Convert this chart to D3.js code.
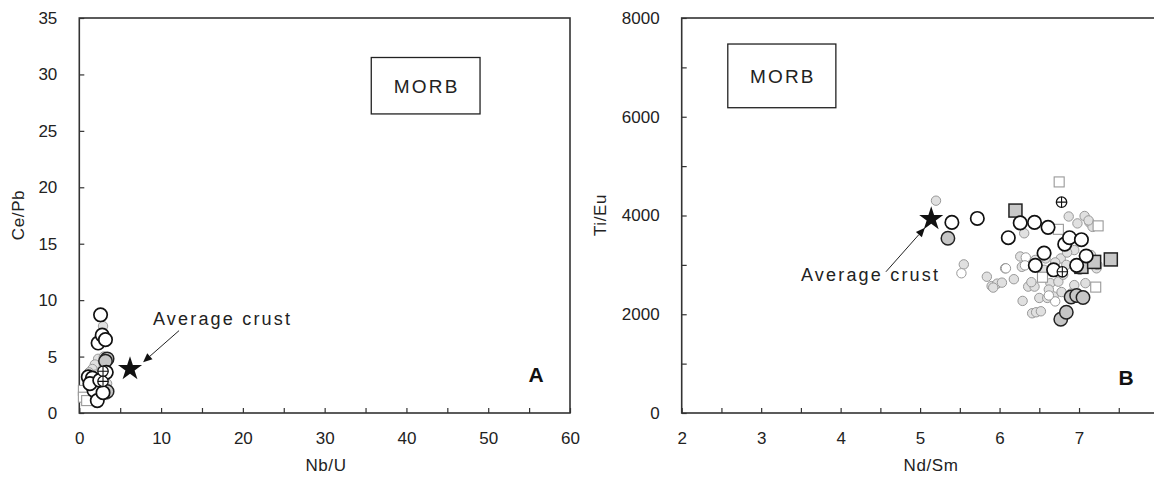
<!DOCTYPE html>
<html>
<head>
<meta charset="utf-8">
<script src="https://cdn.jsdelivr.net/npm/d3@7"></script>
<style>
  body { margin: 0; background: #fff; }
  svg { display: block; font-family: Arial, "Liberation Sans", sans-serif; }
  .axis text { font-size: 17px; fill: #222; }
  .axis line { stroke: #333; stroke-width: 1.2; }
  .frame { fill: none; stroke: #333; stroke-width: 1.6; }
</style>
</head>
<body>
<svg id="chart" width="1154" height="477"></svg>
<script>
// ---- datos panel A (Nb/U vs Ce/Pb) ----
const aLightGray = [[2.9,7.7],[2.3,4.8],[1.9,4.3],[1.6,3.9],[3.3,1.6],[2.5,1.8],[3.4,2.6],[2.0,3.4],[3.0,5.0],[1.2,3.6]];
const aOpenSquares = [[0.5,2.0],[0.5,1.4],[0.9,1.1]];
const aDarkGray = [[3.4,4.8],[3.4,1.9],[3.2,4.6]];
const aOpen = [[2.6,8.7],[2.3,6.2],[2.8,6.9],[3.2,6.5],[1.1,3.2],[1.6,3.1],[3.3,3.6],[2.1,2.3],[1.8,2.0],[2.2,1.1],[1.3,2.6],[2.9,1.8],[2.5,2.9]];
const aCrossed = [[2.9,3.7],[2.9,2.8]];
const aCrust = [6.2, 3.9];

// ---- datos panel B (Nd/Sm vs Ti/Eu) ----
const bLightGray = [[5.20,4300],[5.55,3010],[5.84,2760],[5.90,2570],[5.97,2620],[6.03,2640],[6.07,2930],[6.18,2710],
  [6.31,3640],[6.26,3170],[6.28,2960],[6.36,2560],[6.29,2270],[6.41,2020],[6.46,2040],[6.52,2060],[6.50,2330],
  [6.60,2330],[6.64,2630],[6.74,2660],[6.58,3130],[6.77,3130],[6.84,3000],[6.87,3980],[6.98,3840],[7.07,3990],
  [7.13,3860],[7.17,3770],[6.94,3300],[6.94,2590],[6.90,2420],[7.08,2630],[7.22,2930],[7.21,3100],[7.01,2900],
  [6.44,2560],[6.55,3180],[6.68,2360],[6.45,3100],[6.70,3050],[6.85,3250],[7.15,3200],[7.23,3000],[6.62,2500],
  [6.80,2800],[5.92,2540],[6.40,2650],[6.56,2900],[7.12,3900],[6.78,2450]];
const bSmallOpen = [[5.52,2830],[6.08,2930],[6.33,3150],[6.32,2990],[6.70,2260],[6.62,2380]];
const bOpenSquares = [[6.75,4680],[6.74,3720],[7.24,3790],[6.54,2750],[7.21,2550]];
const bGraySquares = [[6.20,4100],[7.03,2960],[7.19,3060],[7.40,3110]];
const bDarkGray = [[5.35,3540],[6.77,1900],[6.84,2040],[6.90,2350],[6.97,2380],[7.05,2340]];
const bOpen = [[5.40,3860],[5.72,3940],[6.11,3550],[6.26,3850],[6.44,3860],[6.61,3760],[6.56,3240],[6.45,2990],
  [6.68,2900],[6.82,3420],[6.88,3550],[7.03,3510],[6.97,2990],[7.09,3180]];
const bCrossed = [[6.78,4270],[6.79,2860]];
const bCrust = [5.14, 3930];

const svg = d3.select("#chart");

// Capas de puntos: mismo estilo en ambos paneles
function drawPoints(g, x, y, data, kind) {
  const sel = g.append("g").selectAll("g").data(data).enter().append("g")
    .attr("transform", d => "translate(" + x(d[0]) + "," + y(d[1]) + ")");
  if (kind === "light") {
    sel.append("circle").attr("r", 4.7).attr("fill", "#e0e0e0").attr("stroke", "#999").attr("stroke-width", 1);
  } else if (kind === "smallOpen") {
    sel.append("circle").attr("r", 4.7).attr("fill", "#fff").attr("stroke", "#999").attr("stroke-width", 1);
  } else if (kind === "openSquare") {
    sel.append("rect").attr("x", -5).attr("y", -5).attr("width", 10).attr("height", 10)
      .attr("fill", "#fff").attr("stroke", "#999").attr("stroke-width", 1.1);
  } else if (kind === "graySquare") {
    sel.append("rect").attr("x", -6.5).attr("y", -6.5).attr("width", 13).attr("height", 13)
      .attr("fill", "#c8c8c8").attr("stroke", "#222").attr("stroke-width", 1.5);
  } else if (kind === "dark") {
    sel.append("circle").attr("r", 6.7).attr("fill", "#c6c6c6").attr("stroke", "#222").attr("stroke-width", 1.5);
  } else if (kind === "open") {
    sel.append("circle").attr("r", 6.7).attr("fill", "#fff").attr("stroke", "#111").attr("stroke-width", 1.7);
  } else if (kind === "crossed") {
    sel.append("circle").attr("r", 5.2).attr("fill", "#fff").attr("stroke", "#111").attr("stroke-width", 1.3);
    sel.append("path").attr("d", "M-5.2,0H5.2M0,-5.2V5.2").attr("stroke", "#111").attr("stroke-width", 1.1);
  }
}

function drawPanel(cfg) {
  const x = d3.scaleLinear().domain(cfg.xDomain).range(cfg.xRange);
  const y = d3.scaleLinear().domain(cfg.yDomain).range([413, 18]);
  const g = svg.append("g");

  const xTicks = d3.range(cfg.xDomain[0], cfg.xDomain[1] + 1e-9, cfg.xMinor);
  const yTicks = d3.range(cfg.yDomain[0], cfg.yDomain[1] + 1e-9, cfg.yMinor);

  const xAxis = d3.axisBottom(x).tickValues(xTicks).tickSizeInner(-5).tickSizeOuter(0).tickPadding(19)
    .tickFormat(d => Math.abs(d / cfg.xMajor - Math.round(d / cfg.xMajor)) < 1e-6 ? d : "");
  const yAxis = d3.axisLeft(y).tickValues(yTicks).tickSizeInner(-5).tickSizeOuter(0).tickPadding(22)
    .tickFormat(d => Math.abs(d / cfg.yMajor - Math.round(d / cfg.yMajor)) < 1e-6 ? d : "");

  g.append("g").attr("class", "axis").attr("transform", "translate(0,413)").call(xAxis)
    .call(s => s.select(".domain").remove());
  g.append("g").attr("class", "axis").attr("transform", "translate(" + cfg.xRange[0] + ",0)").call(yAxis)
    .call(s => s.select(".domain").remove());

  g.append("rect").attr("class", "frame")
    .attr("x", cfg.xRange[0]).attr("y", 18)
    .attr("width", cfg.xRange[1] - cfg.xRange[0]).attr("height", 395);

  // Caja MORB
  const b = cfg.morb;
  g.append("rect").attr("x", x(b[0])).attr("y", y(b[3]))
    .attr("width", x(b[1]) - x(b[0])).attr("height", y(b[2]) - y(b[3]))
    .attr("fill", "none").attr("stroke", "#222").attr("stroke-width", 1.3);
  g.append("text").attr("x", (x(b[0]) + x(b[1])) / 2 + 1).attr("y", (y(b[2]) + y(b[3])) / 2 + 7)
    .attr("text-anchor", "middle").attr("font-size", "19px").attr("letter-spacing", "2.2px")
    .attr("fill", "#222").text("MORB");

  // Puntos
  const p = cfg.points;
  p.forEach(layer => drawPoints(g, x, y, layer[0], layer[1]));

  // Estrella de corteza media
  g.append("path").attr("d", d3.symbol(d3.symbolStar, 180)())
    .attr("transform", "translate(" + x(cfg.crust[0]) + "," + y(cfg.crust[1]) + ")")
    .attr("fill", "#111");

  // Flecha y etiqueta
  const a = cfg.arrow;
  const x1 = x(a[0]), y1 = y(a[1]), x2 = x(a[2]), y2 = y(a[3]);
  const ang = Math.atan2(y2 - y1, x2 - x1);
  const L = 9, W = 4;
  g.append("line").attr("x1", x1).attr("y1", y1)
    .attr("x2", x2 - L * Math.cos(ang)).attr("y2", y2 - L * Math.sin(ang))
    .attr("stroke", "#222").attr("stroke-width", 1);
  g.append("path")
    .attr("d", "M" + x2 + "," + y2 +
      "L" + (x2 - L * Math.cos(ang) + W * Math.sin(ang)) + "," + (y2 - L * Math.sin(ang) - W * Math.cos(ang)) +
      "L" + (x2 - L * Math.cos(ang) - W * Math.sin(ang)) + "," + (y2 - L * Math.sin(ang) + W * Math.cos(ang)) + "Z")
    .attr("fill", "#111");
  g.append("text").attr("x", x(cfg.label[0])).attr("y", y(cfg.label[1]))
    .attr("font-size", "18px").attr("letter-spacing", "2.2px").attr("fill", "#222").text("Average crust");

  // Letra del panel
  g.append("text").attr("x", cfg.letterPos[0]).attr("y", cfg.letterPos[1])
    .attr("text-anchor", "middle").attr("font-size", "21px").attr("font-weight", "bold")
    .attr("fill", "#111").text(cfg.letter);

  // Títulos de ejes
  g.append("text").attr("x", cfg.xTitlePos[0]).attr("y", 471).attr("text-anchor", "middle")
    .attr("font-size", "17px").attr("letter-spacing", "0.6px").attr("fill", "#222").text(cfg.xTitle);
  g.append("text").attr("transform", "translate(" + cfg.yTitleX + ",215) rotate(-90)")
    .attr("text-anchor", "middle").attr("font-size", "17px").attr("letter-spacing", "0.6px")
    .attr("fill", "#222").text(cfg.yTitle);
}

drawPanel({
  xDomain: [0, 60], xRange: [79.3, 570], xMinor: 5, xMajor: 10,
  yDomain: [0, 35], yMinor: 5, yMajor: 5,
  morb: [35.7, 49, 26.5, 31.5],
  points: [[aLightGray, "light"], [aOpenSquares, "openSquare"], [aDarkGray, "dark"], [aOpen, "open"], [aCrossed, "crossed"]],
  crust: aCrust,
  arrow: [12.2, 7.3, 7.8, 4.5],
  label: [9.0, 7.8],
  letter: "A", letterPos: [536, 382],
  xTitle: "Nb/U", xTitlePos: [326], yTitle: "Ce/Pb", yTitleX: 24
});

drawPanel({
  xDomain: [2, 8], xRange: [681.7, 1158.5], xMinor: 0.5, xMajor: 1,
  yDomain: [0, 8000], yMinor: 1000, yMajor: 2000,
  morb: [2.58, 3.94, 6183, 7473],
  points: [[bLightGray, "light"], [bSmallOpen, "smallOpen"], [bOpenSquares, "openSquare"], [bGraySquares, "graySquare"],
    [bDarkGray, "dark"], [bOpen, "open"], [bCrossed, "crossed"]],
  crust: bCrust,
  arrow: [4.57, 2860, 5.06, 3750],
  label: [3.50, 2670],
  letter: "B", letterPos: [1126, 385],
  xTitle: "Nd/Sm", xTitlePos: [931], yTitle: "Ti/Eu", yTitleX: 606
});
</script>
</body>
</html>
